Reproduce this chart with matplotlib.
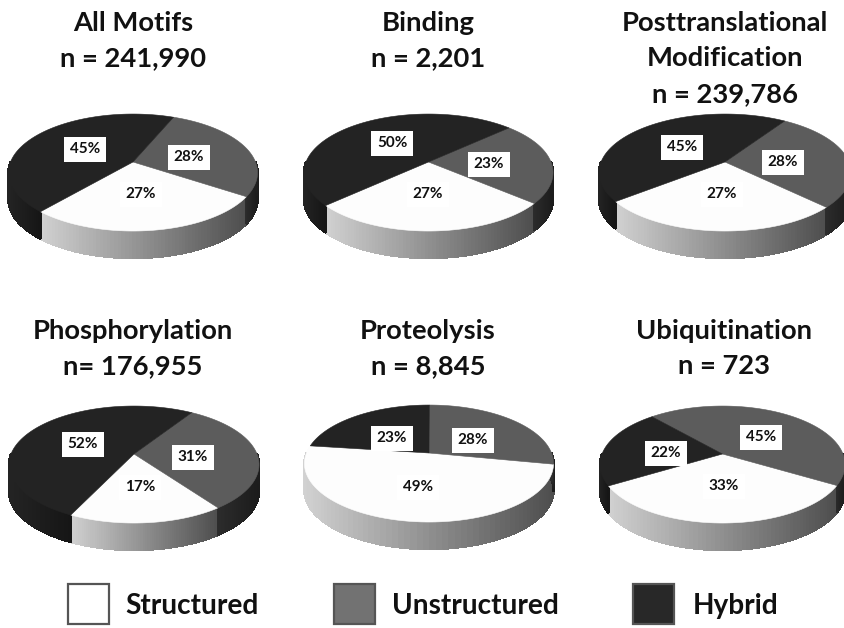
import numpy as np
import matplotlib
matplotlib.use("Agg")
import matplotlib.pyplot as plt
from matplotlib.colors import to_rgb
from matplotlib.patches import Rectangle

# ---- data ----
categories = ["Structured", "Unstructured", "Hybrid"]
titles = ["All Motifs\nn = 241,990", "Binding\nn = 2,201",
          "Posttranslational\nModification\nn = 239,786",
          "Phosphorylation\nn= 176,955", "Proteolysis\nn = 8,845",
          "Ubiquitination\nn = 723"]
all_motifs = [27, 28, 45]
binding = [27, 23, 50]
posttranslational = [27, 28, 45]
phosphorylation = [17, 31, 52]
proteolysis = [49, 28, 23]
ubiquitination = [33, 45, 22]
series = [all_motifs, binding, posttranslational,
          phosphorylation, proteolysis, ubiquitination]

# ---- layout ----
start_angles = [229.3, 222.5, 218.4, 244.5, 172.6, 210.8]
apex_xy = [(133, 162), (428.5, 162), (725, 162), (134, 454), (429, 453), (722.5, 454)]
radius_x = [122.5, 122.5, 124, 123, 122.5, 120.5]
title_xy = [(133, 23), (428, 23), (725, 23), (133, 331), (428, 331), (724, 331)]
label_xy = [
    [(141, 194), (189, 157), (85, 149)],
    [(428, 194), (489, 164), (392, 143)],
    [(722, 194), (783, 162), (682, 147)],
    [(140, 487), (193, 457), (83, 444)],
    [(418, 487), (473, 440), (392, 438)],
    [(724, 486), (761, 437), (666, 453)],
]
radius_y, persp, depth = 56.6, 0.18, 27
top_colors = ["#fdfdfd", "#5c5c5c", "#232323"]
wall_colors = [("#d2d2d2", "#4e4e4e"), ("#2c2c2c", "#1c1c1c"), ("#242424", "#161616")]
legend_colors = ["#ffffff", "#727272", "#282828"]
legend_box_x = [68, 334, 633]
legend_text_x = [125, 392, 693]

plt.rcParams["font.family"] = ["Lato", "DejaVu Sans"]
fig = plt.figure(figsize=(8.44, 6.28), dpi=100)
ax = fig.add_axes([0, 0, 1, 1])
ax.set_xlim(0, 844)
ax.set_ylim(628, 0)
ax.axis("off")


def project(theta_deg, cx, cy, rx):
    t = np.radians(theta_deg)
    X, Y = np.cos(t), np.sin(t)
    s = 1 / (1 + persp * Y)
    return cx + rx * X * s, cy - radius_y * Y * s


def draw_walls(a0, a1, cx, cy, rx, cols):
    c0, c1 = np.array(to_rgb(cols[0])), np.array(to_rgb(cols[1]))
    for lo, hi in [(180, 360), (540, 720)]:
        u0, u1 = max(a0, lo), min(a1, hi)
        if u1 <= u0:
            continue
        edges = np.linspace(u0, u1, 70)
        xs = project(edges, cx, cy, rx)[0]
        xmin, xmax = xs.min(), xs.max()
        for e0, e1 in zip(edges[:-1], edges[1:]):
            th = np.linspace(e0, e1, 3)
            px, py = project(th, cx, cy, rx)
            frac = (px.mean() - xmin) / max(xmax - xmin, 1)
            col = c0 + (c1 - c0) * frac
            ax.fill(np.r_[px, px[::-1]], np.r_[py, py[::-1] + depth],
                    color=col, lw=1.0, antialiased=False, zorder=2)


for vals, start, (cx, cy), rx, labs, title, txy in zip(
        series, start_angles, apex_xy, radius_x, label_xy, titles, title_xy):
    bounds = start + np.r_[0, np.cumsum(vals)] / sum(vals) * 360
    for i in range(3):
        draw_walls(bounds[i], bounds[i + 1], cx, cy, rx, wall_colors[i])
    for i in range(3):
        th = np.linspace(bounds[i], bounds[i + 1], 160)
        px, py = project(th, cx, cy, rx)
        ax.fill(np.r_[cx, px], np.r_[cy, py], color=top_colors[i], lw=0.4, zorder=3)
    for i in range(3):
        lx, ly = labs[i]
        ax.text(lx, ly, f"{vals[i]}%", ha="center", va="center", fontsize=11,
                fontweight="bold", color="#111111", zorder=5,
                bbox=dict(boxstyle="square,pad=0.36", fc="white", ec="none"))
    for k, line in enumerate(title.split("\n")):
        ax.text(txy[0], txy[1] + k * 35.5, line, ha="center", va="center",
                fontsize=19.7, fontweight="bold", color="#111111", zorder=6)

for name, col, bx, tx in zip(categories, legend_colors, legend_box_x, legend_text_x):
    ax.add_patch(Rectangle((bx, 584), 41, 40, fc=col, ec="#555555", lw=1.6, zorder=4))
    ax.text(tx, 606, name, ha="left", va="center", fontsize=20.2,
            fontweight="bold", color="#111111", zorder=6)

fig.savefig("out.png", dpi=100, facecolor="white")
